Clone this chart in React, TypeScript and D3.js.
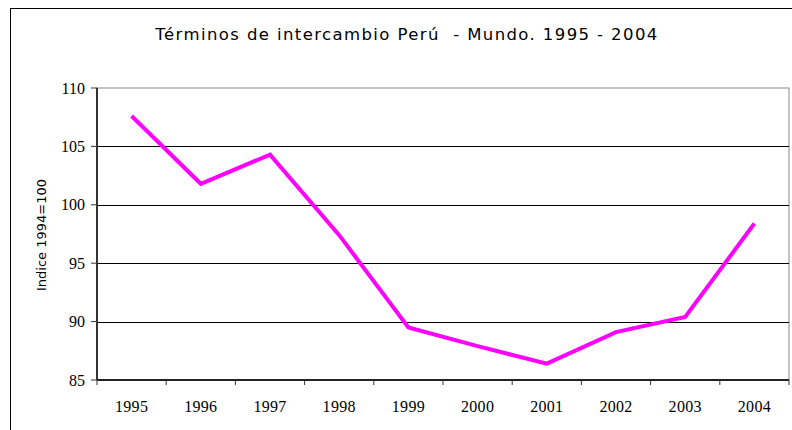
import React from 'react';
import * as d3 from 'd3';

const years = ['1995', '1996', '1997', '1998', '1999', '2000', '2001', '2002', '2003', '2004'];
const values = [107.6, 101.8, 104.3, 97.4, 89.5, 87.9, 86.4, 89.1, 90.4, 98.4];
const yTicks = [85, 90, 95, 100, 105, 110];

const W = 792;
const H = 430;
const left = 97;
const right = 789;
const top = 88;
const bottom = 380;

export default function App() {
  const x = d3.scaleBand().domain(years).range([left, right]).padding(0);
  const y = d3.scaleLinear().domain([85, 110]).range([bottom, top]);

  const line = d3
    .line<number>()
    .x((_, i) => x(years[i])! + x.bandwidth() / 2)
    .y((d) => y(d));

  const boundaries = years.map((yr) => x(yr)!).concat([right]);

  return (
    <svg
      width={W}
      height={H}
      style={{ position: 'absolute', left: 0, top: 0, background: '#fff' }}
    >
      {/* outer chart frame */}
      <rect x={10.5} y={8.5} width={W} height={H} fill="none" stroke="#000" strokeWidth={1} />

      <text
        x={407}
        y={40}
        textAnchor="middle"
        fontFamily="'DejaVu Sans', sans-serif"
        fontSize={16.5}
        letterSpacing={1.4}
        fill="#000"
        style={{ whiteSpace: 'pre' }}
      >
        {'Términos de intercambio Perú  - Mundo. 1995 - 2004'}
      </text>

      {/* plot frame */}
      <rect x={left} y={top} width={right - left} height={bottom - top} fill="#fff" stroke="#8a8a8a" strokeWidth={1} />

      {/* gridlines */}
      {yTicks
        .filter((t) => t !== 85 && t !== 110)
        .map((t) => (
          <line key={t} x1={left} x2={right} y1={Math.round(y(t)) + 0.5} y2={Math.round(y(t)) + 0.5} stroke="#000" strokeWidth={1} />
        ))}

      {/* axes */}
      <line x1={left} x2={left} y1={top} y2={bottom} stroke="#333" strokeWidth={2} />
      <line x1={left} x2={right} y1={bottom} y2={bottom} stroke="#222" strokeWidth={2} />

      {yTicks.map((t) => (
        <g key={t}>
          <line x1={left - 6} x2={left} y1={y(t)} y2={y(t)} stroke="#333" strokeWidth={1} />
          <text
            x={left - 12}
            y={y(t)}
            dy="0.35em"
            textAnchor="end"
            fontFamily="'Liberation Serif', 'Times New Roman', serif"
            fontSize={16}
            fill="#000"
          >
            {t}
          </text>
        </g>
      ))}

      {boundaries.map((bx, i) => (
        <line key={i} x1={bx} x2={bx} y1={bottom} y2={bottom + 5} stroke="#333" strokeWidth={1} />
      ))}

      {years.map((yr) => (
        <text
          key={yr}
          x={x(yr)! + x.bandwidth() / 2}
          y={412}
          textAnchor="middle"
          fontFamily="'Liberation Serif', 'Times New Roman', serif"
          fontSize={16}
          letterSpacing={0.3}
          fill="#000"
        >
          {yr}
        </text>
      ))}

      <text
        transform={`translate(46, 235) rotate(-90)`}
        textAnchor="middle"
        fontFamily="'DejaVu Sans', sans-serif"
        fontSize={13}
        fill="#000"
      >
        Indice 1994=100
      </text>

      <path d={line(values) ?? ''} fill="none" stroke="#ff00ff" strokeWidth={4} strokeLinejoin="miter" />
    </svg>
  );
}
